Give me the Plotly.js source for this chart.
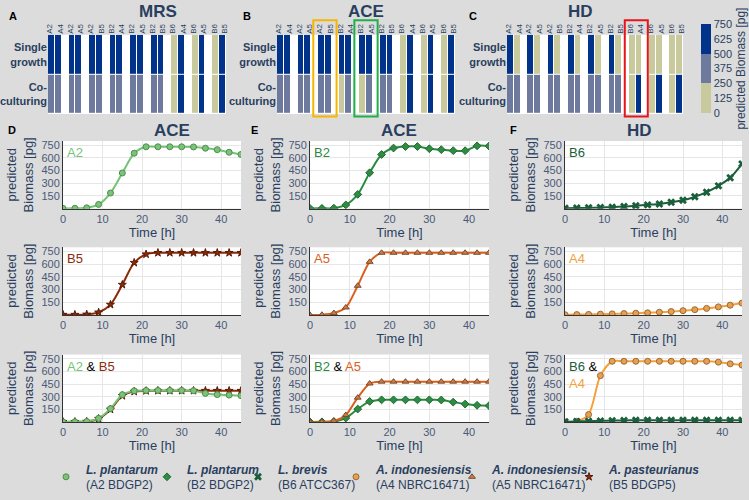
<!DOCTYPE html>
<html><head><meta charset="utf-8">
<script src="https://cdn.plot.ly/plotly-3.0.1.min.js"></script>
<style>body{margin:0;background:#dcdcdc}</style>
</head><body><div id="chart" style="width:749px;height:500px"></div>
<script>
// ---------- DATA ----------
const time = [0,3,6,9,12,15,18,21,24,27,30,33,36,39,42,45];
// single growth, ACE
const aceA2 = [3,4,10,50,185,422,656,732,732,732,732,730,715,698,667,641];
const aceB2 = [3,4,6,44,169,425,641,717,735,735,709,698,686,686,743,740];
const aceB5 = [3,3,6,30,122,358,618,718,735,735,735,735,735,735,735,735];
const aceA5 = [0,2,22,88,345,628,735,735,735,735,735,735,735,735,735,735];
// single growth, HD
const hdB6 = [5,7,10,13,18,25,35,45,55,75,100,140,195,270,365,530];
const hdA4 = [2,4,6,9,12,16,20,25,32,40,50,62,77,95,115,140];
// co-culturing
const aceA2co = [3,4,8,45,160,325,370,375,375,375,375,372,340,326,320,313];
const aceB5co = [3,4,6,40,150,312,362,370,372,372,372,372,372,372,372,372];
const aceB2co = [3,4,8,48,155,245,264,264,264,264,264,262,237,214,199,195];
const aceA5co = [0,2,15,85,290,457,479,479,479,479,479,479,479,479,479,479];
const hdB6co = [5,8,12,15,18,20,22,22,22,22,22,22,22,22,22,22];
const hdA4co = [2,10,90,550,720,720,720,720,720,720,720,720,720,710,690,675];

// heatmap pairs and values (first, second strain of each pair)
const pairFirst  = ["A2","A2","A2","B2","B2","B2","B6","B6","B6"];
const pairSecond = ["A4","A5","B5","A4","A5","B5","A4","A5","B5"];
const rowLabels = ["Co-<br>culturing","Single<br>growth"];
const mrsSingle = [720,720, 720,720, 720,720, 720,720, 720,720, 720,720, 120,720, 120,720, 120,720];
const mrsCo     = [370,370, 370,370, 370,370, 370,370, 370,370, 370,370, 100,720, 100,720, 100,720];
const aceSingle = [730,730, 730,735, 730,735, 735,730, 735,735, 735,735, 30,730, 30,735, 30,735];
const aceCo     = [370,370, 360,380, 375,372, 200,450, 240,479, 300,350, 20,730, 20,735, 20,735];
const hdSingle  = [730,140, 730,150, 730,150, 720,140, 720,150, 720,150, 100,140, 100,150, 100,150];
const hdCo      = [380,360, 380,360, 380,360, 380,360, 380,360, 380,360, 20,720, 20,720, 20,720];
const cbTicks = [0,125,250,375,500,625,750];

// ---------- STYLE ----------
const W = 749, H = 500;
const px = v => v / W, py = v => 1 - v / H;
const txt = '#2a3f5f';
const FONT = 'Liberation Sans, Arial, sans-serif';
const st = {
  A2:{c:'#74c476', f:'#7cc27a', l:'#4d8f4b', s:'circle', lg:'legend', nm:'<b><i>L. plantarum</i></b><br>(A2 BDGP2)'},
  B2:{c:'#2b8a3e', f:'#2e8b44', l:'#1f6a30', s:'diamond', lg:'legend2', nm:'<b><i>L. plantarum</i></b><br>(B2 BDGP2)'},
  B6:{c:'#1b5e3b', f:'#1b5e3b', l:'#1b5e3b', s:'x', lg:'legend3', nm:'<b><i>L. brevis</i></b><br>(B6 ATCC367)'},
  A4:{c:'#f5a03a', f:'#e89f50', l:'#9a6a35', s:'circle', lg:'legend4', nm:'<b><i>A. indonesiensis</i></b><br>(A4 NBRC16471)'},
  A5:{c:'#d9601a', f:'#d07a40', l:'#7a4a30', s:'triangle-up', lg:'legend5', nm:'<b><i>A. indonesiensis</i></b><br>(A5 NBRC16471)'},
  B5:{c:'#8b2a0a', f:'#8b2a0a', l:'#5a1a05', s:'star', lg:'legend6', nm:'<b><i>A. pasteurianus</i></b><br>(B5 BDGP5)'}
};

const traces = [];
const layout = {
  width: W, height: H, margin:{l:0,r:0,t:0,b:0},
  paper_bgcolor:'#dcdcdc', plot_bgcolor:'#ffffff',
  font:{family:FONT, color:txt, size:11},
  annotations:[], shapes:[]
};

// ---------- HEATMAPS ----------
const hmX = [[48,226],[277,455],[507,683]];
const hmY = [py(118), py(36)];
const hmData = [[mrsSingle, mrsCo,'MRS','A'],[aceSingle, aceCo,'ACE','B'],[hdSingle, hdCo,'HD','C']];
const cs = [[0,'#c9c99e'],[1/3,'#c9c99e'],[1/3,'#6e7a9d'],[2/3,'#6e7a9d'],[2/3,'#02338b'],[1,'#02338b']];
function buildRow(v){
  const r=[];
  for(let p=0;p<9;p++){ r.push(v[2*p], v[2*p+1]); if(p<8) r.push(null); }
  return r;
}
const xs = Array.from({length:26},(_,i)=>i);
hmData.forEach((h,i)=>{
  const n = i+1;
  traces.push({
    type:'heatmap', x:xs, y:[0,1], z:[buildRow(h[1]), buildRow(h[0])],
    xaxis:'x'+(n===1?'':n), yaxis:'y'+(n===1?'':n),
    colorscale:cs, zmin:0, zmax:750, xgap:1, ygap:1, hoverinfo:'skip',
    showscale: i===2,
    colorbar:{x:px(701), xanchor:'left', thickness:10, len:(117-25)/H, y:py(71), yanchor:'middle',
      xpad:0, ypad:0, outlinewidth:0, tickvals:cbTicks, ticks:'', tickfont:{size:11,color:txt},
      title:{text:'predicted Biomass [pg]', side:'right', font:{size:12,color:txt}}}
  });
  const ax = n===1?'':n;
  layout['xaxis'+ax] = {domain:[px(hmX[i][0]),px(hmX[i][1])], anchor:'y'+ax, range:[-0.5,25.5],
    side:'top', showgrid:false, zeroline:false, ticks:'', tickangle:-90,
    tickvals:pairFirst.map((_,p)=>3*p+0.5), ticktext:pairFirst.map((a,p)=>a+'<br>'+pairSecond[p]),
    tickfont:{size:8,color:txt}, fixedrange:true};
  layout['yaxis'+ax] = {domain:hmY, anchor:'x'+ax, range:[-0.5,1.5], showgrid:false, zeroline:false,
    ticks:'', tickvals:[0,1], ticktext:rowLabels.map(t=>'<b>'+t+'</b>'), tickfont:{size:11,color:txt}, fixedrange:true};
  layout.annotations.push({xref:'paper',yref:'paper',x:px((hmX[i][0]+hmX[i][1])/2),y:py(12),yanchor:'middle',
    text:'<b>'+h[2]+'</b>',showarrow:false,font:{size:17,color:txt}});
});
[['A',13,17],['B',247,17],['C',473,17],['D',12,135],['E',255,135],['F',513,135]].forEach(l=>{
  layout.annotations.push({xref:'paper',yref:'paper',x:px(l[1]),y:py(l[2]),xanchor:'center',yanchor:'middle',
    text:'<b>'+l[0]+'</b>',showarrow:false,font:{size:11,color:'#000'}});
});
// highlight boxes
[['x2',4.8,8.2,'#f7b500'],['x2',10.8,14.2,'#1fb04a'],['x3',16.9,20.3,'#e8141c']].forEach(b=>{
  layout.shapes.push({type:'rect',xref:b[0],yref:'paper',x0:b[1],x1:b[2],y0:py(120.5),y1:py(21),
    line:{color:b[3],width:2}});
});

// ---------- LINE PANELS ----------
const colX = [[63,241],[310,489],[565,742]];
const rowY = [[146,216],[256,326],[367,437]];
const panels = [
  {n:4,c:0,r:0,s:[['A2',aceA2]]},
  {n:5,c:1,r:0,s:[['B2',aceB2]]},
  {n:6,c:2,r:0,s:[['B6',hdB6]]},
  {n:7,c:0,r:1,s:[['B5',aceB5]]},
  {n:8,c:1,r:1,s:[['A5',aceA5]]},
  {n:9,c:2,r:1,s:[['A4',hdA4]]},
  {n:10,c:0,r:2,s:[['B5',aceB5co],['A2',aceA2co]],lab:"<span style='color:#74c476'>A2</span> & <span style='color:#8b2a0a'>B5</span>"},
  {n:11,c:1,r:2,s:[['B2',aceB2co],['A5',aceA5co]],lab:"<span style='color:#2b8a3e'>B2</span> & <span style='color:#d9601a'>A5</span>"},
  {n:12,c:2,r:2,s:[['A4',hdA4co],['B6',hdB6co]],lab:"<span style='color:#1b5e3b'>B6</span> &<br><span style='color:#f5a03a'>A4</span>"}
];
const shown = new Set();
panels.forEach(p=>{
  const n=p.n;
  p.s.forEach(([k,vals])=>{
    const S=st[k];
    traces.push({type:'scatter',mode:'lines',x:time,y:vals,xaxis:'x'+n,yaxis:'y'+n,
      line:{color:S.c,width:2,shape:'spline',smoothing:0.8},showlegend:false,hoverinfo:'skip'});
    const first=!shown.has(k); shown.add(k);
    traces.push({type:'scatter',mode:'markers',x:time,y:vals,xaxis:'x'+n,yaxis:'y'+n,
      marker:{symbol:S.s,size:k==='B6'?7:6,color:S.f,line:{color:S.l,width:k==='B6'?0:1}},
      name:S.nm, legend:S.lg, showlegend:first, hoverinfo:'skip'});
  });
  layout['xaxis'+n]={domain:[px(colX[p.c][0]),px(colX[p.c][1])],anchor:'y'+n,range:[0,45],
    tickvals:[0,10,20,30,40],ticks:'',gridcolor:'#e6e6e6',zeroline:false,showline:true,linecolor:'#333',linewidth:1,
    tickfont:{size:11,color:'#4a5a78'},title:{text:'Time [h]',font:{size:13,color:txt},standoff:3},fixedrange:true};
  layout['yaxis'+n]={domain:[py(rowY[p.r][1]),py(rowY[p.r][0])],anchor:'x'+n,range:[0,800],
    tickvals:[150,300,450,600,750],ticks:'',gridcolor:'#e6e6e6',zeroline:false,showline:true,linecolor:'#333',linewidth:1,
    tickfont:{size:11,color:'#4a5a78'},title:{text:'predicted<br>Biomass [pg]',font:{size:13,color:txt},standoff:4},fixedrange:true};
  const lab = p.lab || ("<span style='color:"+st[p.s[0][0]].c+"'>"+p.s[0][0]+"</span>");
  layout.annotations.push({xref:'x'+n+' domain',yref:'y'+n+' domain',x:0.01,y:0.97,xanchor:'left',yanchor:'top',
    text:lab,showarrow:false,align:'left',font:{size:13,color:'#000'}});
  if(p.r===0){
    layout.annotations.push({xref:'paper',yref:'paper',x:px((colX[p.c][0]+colX[p.c][1])/2),y:py(135),yanchor:'middle',
      text:'<b>'+(p.c===2?'HD':'ACE')+'</b>',showarrow:false,font:{size:17,color:txt}});
  }
});

// ---------- LEGENDS ----------
const legX = [46,147,238,336,452,569];
['legend','legend2','legend3','legend4','legend5','legend6'].forEach((lg,i)=>{
  layout[lg]={x:px(legX[i]),xanchor:'left',y:py(494),yanchor:'middle',orientation:'h',valign:'middle',
    bgcolor:'rgba(0,0,0,0)',borderwidth:0,font:{size:12,color:txt},itemwidth:30};
});

Plotly.newPlot('chart', traces, layout, {displayModeBar:false, staticPlot:true});
</script></body></html>
